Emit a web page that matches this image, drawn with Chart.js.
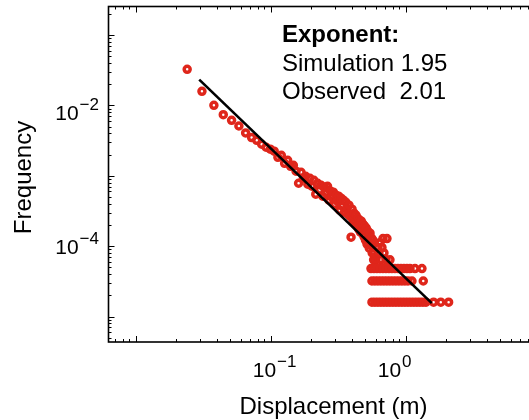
<!DOCTYPE html>
<html>
<head>
<meta charset="utf-8">
<script src="https://cdn.jsdelivr.net/npm/chart.js@4.4.1/dist/chart.umd.min.js"></script>
<style>
  html, body { margin: 0; padding: 0; background: #fff; overflow: hidden; }
  #wrap { position: absolute; left: 0; top: 0; width: 560px; height: 420px; }
</style>
</head>
<body>
<div id="wrap"><canvas id="graph" width="560" height="420"></canvas></div>
<script>
// displacement bins (m)
const DISP = [
  0.0241, 0.0310, 0.0380, 0.0446, 0.0514, 0.0582, 0.0653, 0.0723,
  0.0789, 0.0858, 0.0926, 0.0995, 0.1063, 0.1132, 0.1200, 0.1269, 0.1337, 0.1406,
  0.1474, 0.1543, 0.1611, 0.1680, 0.1748, 0.1817, 0.1885, 0.1954, 0.2022, 0.2091,
  0.2159, 0.2228, 0.2296, 0.2365, 0.2433, 0.2502, 0.2570, 0.2639, 0.2707, 0.2776,
  0.2844, 0.2913, 0.2981, 0.3050, 0.3118, 0.3187, 0.3255, 0.3324, 0.3392, 0.3461,
  0.3529, 0.3598, 0.3666, 0.3735, 0.3803, 0.3872, 0.3940, 0.4009, 0.4077, 0.4146,
  0.4214, 0.4283, 0.4351, 0.4420, 0.4488, 0.4557, 0.4625, 0.4694, 0.4762, 0.4831,
  0.4899, 0.4968, 0.5036, 0.5105, 0.5173, 0.5242, 0.5310, 0.5379, 0.5447, 0.5516,
  0.5584, 0.5653, 0.5721, 0.5790, 0.5858, 0.5927,
  0.6023, 0.6561, 0.7146, 0.7650, 0.5823, 0.6341, 0.6906, 0.6234, 0.6674, 0.6450,
  0.6789, 0.7269,
  0.5533, 0.5823, 0.6129, 0.6450, 0.6789, 0.7146, 0.7521, 0.7915, 0.8333, 0.8770,
  0.9230, 0.9713, 1.0223, 1.0760, 1.1720, 1.3200,
  0.5628, 0.5923, 0.6234, 0.6561, 0.6906, 0.7269, 0.7650, 0.8052, 0.8475, 0.8920,
  0.9389, 0.9880, 1.0400, 1.1130, 1.3500,
  0.5628, 0.5923, 0.6234, 0.6561, 0.6906, 0.7269, 0.7650, 0.8052, 0.8475, 0.8920,
  0.9389, 0.9880, 1.0400, 1.0945, 1.1520, 1.2125, 1.2760, 1.3430, 1.4140, 1.6100,
  1.8200, 2.0800
];

// frequency of each bin
const FREQ = [
  3.25e-2, 1.58e-2, 1.00e-2, 7.38e-3, 6.12e-3, 5.09e-3, 4.05e-3, 3.48e-3,
  3.19e-3, 2.80e-3, 2.54e-3, 2.38e-3, 2.23e-3, 1.83e-3, 1.95e-3, 1.50e-3, 1.66e-3, 1.36e-3,
  1.41e-3, 1.16e-3, 7.82e-4, 1.12e-3, 9.21e-4, 9.83e-4, 7.57e-4, 9.21e-4, 7.09e-4, 8.63e-4,
  5.47e-4, 7.82e-4, 6.23e-4, 7.33e-4, 5.12e-4, 6.87e-4, 5.65e-4, 7.09e-4, 4.49e-4, 6.03e-4,
  4.96e-4, 5.84e-4, 3.95e-4, 5.29e-4, 4.35e-4, 5.12e-4, 3.24e-4, 4.80e-4, 3.70e-4, 4.49e-4,
  3.04e-4, 4.21e-4, 3.46e-4, 2.84e-4, 3.82e-4, 2.66e-4, 1.34e-4, 3.35e-4, 2.34e-4, 2.94e-4,
  2.19e-4, 2.75e-4, 1.93e-4, 2.49e-4, 1.75e-4, 2.34e-4, 1.58e-4, 2.26e-4, 1.69e-4, 2.05e-4,
  1.38e-4, 1.93e-4, 1.22e-4, 1.80e-4, 1.07e-4, 1.64e-4, 1.38e-4, 9.37e-5, 1.53e-4, 1.03e-4,
  1.30e-4, 8.00e-5, 1.22e-4, 6.40e-5, 1.10e-4, 7.00e-5,
  6.40e-5, 6.40e-5, 6.40e-5, 6.40e-5, 8.00e-5, 8.00e-5, 8.00e-5, 9.60e-5, 9.60e-5, 1.12e-4,
  1.28e-4, 1.28e-4,
  4.80e-5, 4.80e-5, 4.80e-5, 4.80e-5, 4.80e-5, 4.80e-5, 4.80e-5, 4.80e-5, 4.80e-5, 4.80e-5,
  4.80e-5, 4.80e-5, 4.80e-5, 4.80e-5, 4.80e-5, 4.80e-5,
  3.20e-5, 3.20e-5, 3.20e-5, 3.20e-5, 3.20e-5, 3.20e-5, 3.20e-5, 3.20e-5, 3.20e-5, 3.20e-5,
  3.20e-5, 3.20e-5, 3.20e-5, 3.20e-5, 3.20e-5,
  1.60e-5, 1.60e-5, 1.60e-5, 1.60e-5, 1.60e-5, 1.60e-5, 1.60e-5, 1.60e-5, 1.60e-5, 1.60e-5,
  1.60e-5, 1.60e-5, 1.60e-5, 1.60e-5, 1.60e-5, 1.60e-5, 1.60e-5, 1.60e-5, 1.60e-5, 1.60e-5,
  1.60e-5, 1.60e-5
];

// power law fit line
const FIT_X = [0.0296, 1.56];
const FIT_Y = [0.0232, 1.55e-5];

// labelled decades
const X_TICK_EXP = [-1, 0];
const Y_TICK_EXP = [-4, -2];

// texts
const X_TITLE = 'Displacement (m)';
const Y_TITLE = 'Frequency';
const NOTE_TITLE = 'Exponent:';
const NOTE_LINES = ['Simulation 1.95', 'Observed  2.01'];

const FONT = '"Liberation Sans", Arial, Helvetica, sans-serif';
const RED = '#df261b';

/*
  "10" with a raised exponent, left edge at x, base line at y
*/
function drawPower(ctx, exp, x, y) {
  const expText = exp < 0 ? '\u2212' + Math.abs(exp) : String(exp);
  ctx.textAlign = 'left';
  ctx.textBaseline = 'alphabetic';
  ctx.font = '21px ' + FONT;
  ctx.fillText('10', x, y);
  const wb = ctx.measureText('10').width;
  ctx.font = '17px ' + FONT;
  ctx.fillText(expText, x + wb + 1, y - 10);
}

function powerWidth(ctx, exp) {
  const expText = exp < 0 ? '\u2212' + Math.abs(exp) : String(exp);
  ctx.font = '21px ' + FONT;
  const wb = ctx.measureText('10').width;
  ctx.font = '17px ' + FONT;
  return wb + 1 + ctx.measureText(expText).width;
}

/*
  axes box, inward ticks, labels and note
*/
const axesPlugin = {
  id: 'axesBox',
  afterDraw(chart) {
    const ctx = chart.ctx;
    const a = chart.chartArea;
    const xs = chart.scales.x;
    const ys = chart.scales.y;
    ctx.save();
    ctx.strokeStyle = '#000';
    ctx.fillStyle = '#000';

    // ticks
    ctx.lineWidth = 1;
    ctx.beginPath();
    for (let d = -7; d <= 1; d++) {
      for (let m = 1; m <= 9; m++) {
        const v = m * Math.pow(10, d);
        const len = m === 1 ? 6 : 3;
        if (v >= xs.min && v <= xs.max) {
          const px = Math.round(xs.getPixelForValue(v)) + 0.5;
          ctx.moveTo(px, a.bottom); ctx.lineTo(px, a.bottom - len);
          ctx.moveTo(px, a.top); ctx.lineTo(px, a.top + len);
        }
        if (v >= ys.min && v <= ys.max) {
          const py = Math.round(ys.getPixelForValue(v)) + 0.5;
          ctx.moveTo(a.left, py); ctx.lineTo(a.left + len, py);
          ctx.moveTo(a.right, py); ctx.lineTo(a.right - len, py);
        }
      }
    }
    ctx.stroke();

    // box
    ctx.lineWidth = 1.6;
    ctx.strokeRect(a.left, a.top, a.right - a.left, a.bottom - a.top);

    // x tick labels
    const xShift = { '-1': 4, '0': -11 };
    X_TICK_EXP.forEach(function(e) {
      const px = xs.getPixelForValue(Math.pow(10, e));
      const w = powerWidth(ctx, e);
      drawPower(ctx, e, px + xShift[e] - w / 2, a.bottom + 35);
    });

    // y tick labels
    const yShift = { '-2': 15, '-4': 8 };
    Y_TICK_EXP.forEach(function(e) {
      const py = ys.getPixelForValue(Math.pow(10, e));
      const w = powerWidth(ctx, e);
      drawPower(ctx, e, 99 - w, py + yShift[e]);
    });

    // axis titles
    ctx.font = '24px ' + FONT;
    ctx.textAlign = 'center';
    ctx.textBaseline = 'alphabetic';
    ctx.fillText(X_TITLE, 333.5, 413.5);
    ctx.save();
    ctx.translate(31, 177.5);
    ctx.rotate(-Math.PI / 2);
    ctx.fillText(Y_TITLE, 0, 0);
    ctx.restore();

    // note
    ctx.textAlign = 'left';
    ctx.font = 'bold 24px ' + FONT;
    ctx.fillText(NOTE_TITLE, 282, 42);
    ctx.font = '24px ' + FONT;
    ctx.fillText(NOTE_LINES[0], 282, 70.5);
    ctx.fillText(NOTE_LINES[1], 282, 99);
    ctx.restore();
  }
};

function toPoints(xs, ys) {
  let pts = [];
  for (let i = 0; i < xs.length; i++) {
    pts.push({ x: xs[i], y: ys[i] });
  }
  return pts;
}

let graph = new Chart(document.getElementById('graph'), {
  type: 'scatter',
  data: {
    datasets: [
      {
        // fit
        type: 'line',
        data: toPoints(FIT_X, FIT_Y),
        borderColor: '#000',
        borderWidth: 2.6,
        pointRadius: 0,
        fill: false,
        order: 0
      },
      {
        // histogram
        data: toPoints(DISP, FREQ),
        borderColor: RED,
        backgroundColor: 'rgba(0,0,0,0)',
        borderWidth: 3.5,
        pointRadius: 3.0,
        pointHoverRadius: 3.0,
        order: 1
      }
    ]
  },
  options: {
    responsive: false,
    animation: false,
    events: [],
    layout: { padding: { left: 108.5, top: 6, right: 19.3, bottom: 78 } },
    plugins: {
      legend: { display: false },
      tooltip: { enabled: false }
    },
    scales: {
      x: { type: 'logarithmic', display: false, min: 0.0063, max: 10 },
      y: { type: 'logarithmic', display: false, min: 4.35e-6, max: 0.2535 }
    }
  },
  plugins: [axesPlugin]
});
</script>
</body>
</html>
